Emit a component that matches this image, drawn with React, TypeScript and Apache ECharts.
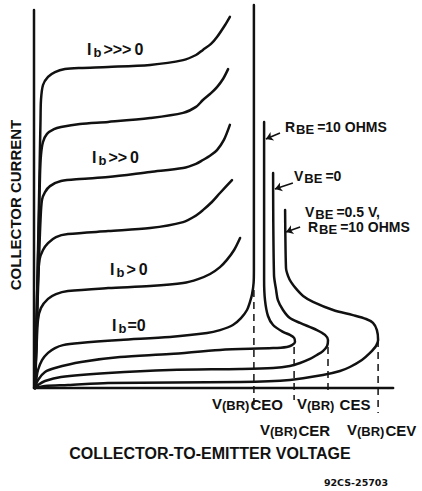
import React, { useEffect, useRef } from "react";
import * as echarts from "echarts";

type Pt = [number, number];

// Axes of the sketch (arbitrary units: voltage 0..120, current 0..128)
const axisYLine: Pt[] = [[0, 0], [0, 126]];
const axisXLine: Pt[] = [[0, 0], [119.7, 0]];

// Ib >>> 0
const curveIb3: Pt[] = [
  [0.33, 0], [1, 29.3], [1.67, 62.7], [2.17, 89.3], [2.33, 96], [3, 101], [4.67, 103.7],
  [7, 105.3], [10.3, 106.3], [15.3, 106.7], [24.7, 107], [38.7, 107.7], [49.7, 109.3],
  [54, 111], [56.3, 112.7], [59, 114.7], [61, 117], [63.7, 121], [65.3, 123.7],
];
// between Ib>>>0 and Ib>>0
const curveIb2b: Pt[] = [
  [0.33, 0], [1, 29.3], [1.67, 56], [2, 71], [2.33, 77.7], [3, 82], [4.33, 84.7],
  [6.67, 86.3], [9, 87], [15.3, 88], [24.7, 88.7], [38.7, 90], [49.7, 91.7],
  [54, 93.7], [56.3, 96], [59, 98.3], [61, 100.3], [63, 103], [64.7, 106.3],
];
// Ib >> 0
const curveIb2: Pt[] = [
  [0.33, 0], [1, 22.7], [1.67, 42.7], [2.17, 56], [2.67, 62.7], [3.67, 65.3], [5.33, 67.3],
  [9, 69], [15.3, 69.7], [24.7, 70.3], [38.7, 72], [49.7, 73.3], [54, 74.7],
  [56.3, 76], [59, 77.7], [61, 79.3], [63.3, 82.7], [65.3, 87.7],
];
// between Ib>>0 and Ib>0
const curveIb1b: Pt[] = [
  [0.33, 0], [1, 22.7], [1.33, 36], [1.83, 42.7], [3, 46], [4.67, 48.3], [7.33, 50.3],
  [11.3, 51.3], [24.7, 52.3], [38.7, 53.3], [49.7, 55.3], [53.7, 57.3], [56.3, 59.3],
  [59.3, 62], [62, 65], [66, 69.3],
];
// Ib > 0
const curveIb1: Pt[] = [
  [0.33, 0], [0.83, 12.7], [1.33, 22.7], [2.33, 26.7], [4.67, 29.7], [7.33, 31.3],
  [11.3, 32.3], [24.7, 33.3], [38.7, 34], [49.7, 35], [54.7, 36.3], [58.7, 38],
  [62, 40.3], [64.3, 42.7], [66.7, 46], [68.7, 50],
];
// Ib = 0  -> V(BR)CEO
const curveIb0: Pt[] = [
  [0.33, 0], [0.83, 3.33], [1.33, 6], [2.67, 9.33], [4.67, 11.7], [7, 13.3], [9.67, 14.3],
  [15.3, 15], [28.7, 16], [45.3, 17], [57.7, 18.3], [62, 19.3], [66.3, 21], [69, 23.3],
  [71, 26], [72, 28.7], [72.7, 31.3], [73.2, 35], [73.3, 39.3], [73.3, 127.7],
];
// RBE = 10 ohms -> V(BR)CER
const curveRbe: Pt[] = [
  [0.33, 0], [1.33, 2.67], [3.67, 5.33], [7, 6.67], [15.7, 8.67], [28.7, 10.3], [45.3, 11.3],
  [62, 12.7], [79.7, 13.3], [84.3, 13.7], [86, 14.3], [87, 15.3], [86.7, 16.7], [85.3, 17.7],
  [83, 18.7], [79.7, 21], [78, 24], [77, 29.3], [76.7, 36], [76.7, 88.7],
];
// VBE = 0 -> V(BR)CES
const curveVbe0: Pt[] = [
  [0.33, 0], [1.33, 1], [3.67, 2.33], [9, 3.67], [24.7, 5], [45.3, 6], [68.7, 6.33],
  [79.7, 6.67], [85.3, 7.33], [88.7, 8.33], [92, 9.67], [94.3, 11], [96.3, 12.3],
  [97.7, 14], [98, 16], [97, 17.7], [94.3, 19.3], [88.7, 21.7], [85.3, 23.3], [83, 26],
  [81.3, 29.3], [80.7, 32.7], [80, 37.7], [79.7, 71.7],
];
// VBE = 0.5 V, RBE = 10 ohms -> V(BR)CEV
const curveVbeRev: Pt[] = [
  [0.33, 0], [3.67, 0.67], [11.3, 1], [24.7, 1.67], [68.7, 2], [85.3, 2.67], [96.3, 4.33],
  [102, 5.67], [105.3, 7], [109.3, 9.33], [112, 11.7], [114, 14], [114.7, 16], [114.3, 19.3],
  [113, 21.7], [110.7, 23], [106.3, 24.3], [99.7, 26], [93, 28.7], [89.7, 30.7],
  [87.7, 32.7], [85.7, 35.3], [84.7, 37.3], [84, 40], [83.7, 59.3],
];

// Breakdown-voltage drop lines
const dashCEO: Pt[] = [[73.3, 32.7], [73.3, -5.7]];
const dashCER: Pt[] = [[86.7, 13.7], [86.7, -4]];
const dashCES: Pt[] = [[98, 13.7], [98, -2]];
const dashCEV: Pt[] = [[114.7, 16], [114.7, -8.3]];

// Pointer arrows (from label to curve)
const arrowRbe: Pt[] = [[82, 85], [77.3, 83]];
const arrowVbe0: Pt[] = [[86.3, 68.3], [80.3, 66.3]];
const arrowVbeRev: Pt[] = [[88.7, 53.7], [84, 52]];

const F = '"Liberation Sans", Arial, sans-serif';
const BLACK = "#111";

const solid = (data: Pt[]) => ({
  type: "line",
  data,
  smooth: 0.3,
  showSymbol: false,
  symbol: "none",
  silent: true,
  lineStyle: { color: BLACK, width: 2.5, cap: "round", join: "round" },
});
const dashed = (data: Pt[]) => ({
  type: "line",
  data,
  showSymbol: false,
  symbol: "none",
  silent: true,
  lineStyle: { color: BLACK, width: 1.5, type: [7, 5] },
});
const arrow = (a: Pt[]) => ({
  type: "line",
  data: [],
  silent: true,
  markLine: {
    silent: true,
    animation: false,
    symbol: ["none", "arrow"],
    symbolSize: 7,
    label: { show: false },
    lineStyle: { color: BLACK, width: 1.6, type: "solid" },
    data: [[{ coord: a[0] }, { coord: a[1] }]],
  },
});

const base = { fontFamily: F, fontWeight: "bold", fill: BLACK };

const ibRich = {
  i: { fontSize: 16, fontFamily: F, fontWeight: "bold", lineHeight: 18, verticalAlign: "top" },
  s: { fontSize: 13, fontFamily: F, fontWeight: "bold", lineHeight: 13, padding: [11, 1, 0, 2], verticalAlign: "bottom" },
  t: { fontSize: 16, fontFamily: F, fontWeight: "bold", lineHeight: 18, verticalAlign: "top", padding: [0, 3, 0, 1] },
  z: { fontSize: 16, fontFamily: F, fontWeight: "bold", lineHeight: 18, verticalAlign: "top" },
};
const subRich = {
  m: { fontSize: 14, fontFamily: F, fontWeight: "bold", lineHeight: 16, verticalAlign: "top" },
  s: { fontSize: 13, fontFamily: F, fontWeight: "bold", lineHeight: 14, padding: [6, 1, 0, 1], verticalAlign: "bottom" },
  t: { fontSize: 14, fontFamily: F, fontWeight: "bold", lineHeight: 16, verticalAlign: "top", padding: [0, 0, 0, 2] },
};
const brRich = {
  v: { fontSize: 15, fontFamily: F, fontWeight: "bold", lineHeight: 16, verticalAlign: "top" },
  p: { fontSize: 13, fontFamily: F, fontWeight: "bold", lineHeight: 16, padding: [3, 0, 0, 0], verticalAlign: "bottom" },
  c: { fontSize: 15, fontFamily: F, fontWeight: "bold", lineHeight: 16, padding: [3, 0, 0, 1], verticalAlign: "bottom" },
};

const txt = (x: number, y: number, text: string, rich: any, extra: any = {}) => ({
  type: "text",
  x,
  y,
  silent: true,
  style: { ...base, text, rich, verticalAlign: "top", align: "left", ...extra },
});

export default function App() {
  const ref = useRef<HTMLDivElement>(null);
  useEffect(() => {
    if (!ref.current) return;
    const chart = echarts.init(ref.current, undefined, { renderer: "svg" });
    chart.setOption({
      animation: false,
      backgroundColor: "#fff",
      grid: { left: 34, top: 4, width: 360, height: 414 },
      xAxis: { type: "value", min: 0, max: 120, show: false },
      yAxis: { type: "value", min: -10, max: 128, show: false },
      series: [
        solid(axisYLine),
        solid(axisXLine),
        solid(curveIb3),
        solid(curveIb2b),
        solid(curveIb2),
        solid(curveIb1b),
        solid(curveIb1),
        solid(curveIb0),
        solid(curveRbe),
        solid(curveVbe0),
        solid(curveVbeRev),
        dashed(dashCEO),
        dashed(dashCER),
        dashed(dashCES),
        dashed(dashCEV),
        arrow(arrowRbe),
        arrow(arrowVbe0),
        arrow(arrowVbeRev),
      ],
      graphic: [
        txt(87, 41, "{i|I}{s|b}{t|>>>}{z|0}", ibRich),
        txt(92, 149, "{i|I}{s|b}{t|>>}{z|0}", ibRich),
        txt(110, 261, "{i|I}{s|b}{t|>}{z|0}", ibRich),
        txt(112, 317, "{i|I}{s|b}{z|=0}", ibRich),
        txt(285, 120, "{m|R}{s|BE}{t|=10 OHMS}", subRich),
        txt(294, 169, "{m|V}{s|BE}{t|=0}", subRich),
        txt(305, 205, "{m|V}{s|BE}{t|=0.5 V,}", subRich),
        txt(308, 220, "{m|R}{s|BE}{t|=10 OHMS}", subRich),
        txt(212, 396, "{v|V}{p|(BR)}{c|CEO}", brRich),
        txt(297, 396, "{v|V}{p|(BR)}{c| CES}", brRich),
        txt(260, 422, "{v|V}{p|(BR)}{c|CER}", brRich),
        txt(347, 422, "{v|V}{p|(BR)}{c|CEV}", brRich),
        {
          type: "text",
          x: 210,
          y: 453,
          silent: true,
          style: { ...base, text: "COLLECTOR-TO-EMITTER VOLTAGE", fontSize: 16, align: "center", verticalAlign: "middle" },
        },
        {
          type: "text",
          x: 15,
          y: 205,
          rotation: Math.PI / 2,
          silent: true,
          style: { ...base, text: "COLLECTOR CURRENT", fontSize: 15, align: "center", verticalAlign: "middle" },
        },
        {
          type: "text",
          x: 356,
          y: 482,
          silent: true,
          style: { ...base, fontFamily: '"DejaVu Sans", sans-serif', text: "92CS-25703", fontSize: 9.5, align: "center", verticalAlign: "middle" },
        },
      ],
    });
    return () => chart.dispose();
  }, []);
  return (
    <div
      ref={ref}
      style={{ position: "absolute", left: 0, top: 0, width: 422, height: 491, background: "#fff" }}
    />
  );
}
